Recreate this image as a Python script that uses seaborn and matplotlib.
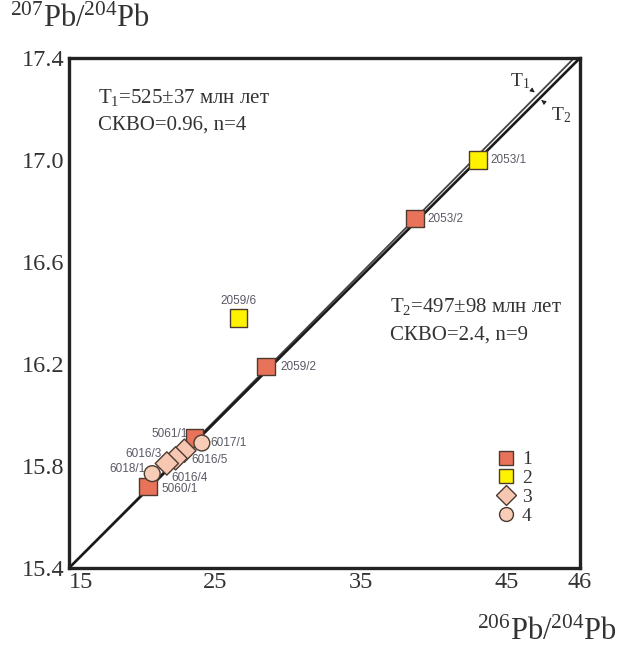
import numpy as np
import pandas as pd
import matplotlib
matplotlib.use("Agg")
import matplotlib.pyplot as plt
from matplotlib.lines import Line2D
import seaborn as sns

# ---------------- data ----------------
sample_labels = ["2053/1", "2059/6",
                 "2053/2", "2059/2", "5061/1", "5060/1",
                 "6016/5", "6016/4", "6016/3",
                 "6017/1", "6018/1"]
pb206_204 = [43.0, 26.6, 38.7, 28.5, 23.6, 20.4, 22.9, 22.3, 21.7, 24.1, 20.7]
pb207_204 = [17.00, 16.38, 16.77, 16.19, 15.91, 15.72, 15.86, 15.83, 15.81, 15.89, 15.77]
groups = ["2", "2", "1", "1", "1", "1", "3", "3", "3", "4", "4"]

# isochron lines: start point and end point (x, y)
iso_names = ["T1", "T2"]
iso_x0 = [15.0, 15.0]
iso_y0 = [15.40, 15.40]
iso_x1 = [49.6, 50.0]
iso_y1 = [17.40, 17.40]

x_ticks = [15, 20, 25, 30, 35, 40, 45, 50]
x_tick_labels = ["15", "", "25", "", "35", "", "45", "46"]
y_ticks = [15.4, 15.8, 16.2, 16.6, 17.0, 17.4]
y_tick_labels = ["15.4", "15.8", "16.2", "16.6", "17.0", "17.4"]

legend_labels = ["1", "2", "3", "4"]

# ---------------- styles ----------------
sns.set_style("white")
plt.rcParams["font.family"] = ["Liberation Serif", "DejaVu Serif"]
plt.rcParams["mathtext.default"] = "regular"

palette = {"1": "#E8735A", "2": "#FFF200", "3": "#F7C7B2", "4": "#F7CDB8"}
markers = {"1": "s", "2": "s", "3": "D", "4": "o"}
sizes = {"1": 160, "2": 160, "3": 140, "4": 130}
edge = "#4a3a30"

# label offsets in points (dx, dy, ha)
label_layout = {
    "2053/1": (9, 0, "left"),
    "2053/2": (9, 0, "left"),
    "2059/6": (0, 12, "center"),
    "2059/2": (10, 0, "left"),
    "5061/1": (-5, 3, "right"),
    "6017/1": (6, 0, "left"),
    "6016/3": (-4, 7, "right"),
    "6016/5": (5, -7, "left"),
    "6016/4": (-3, -14, "left"),
    "6018/1": (-5, 3, "right"),
    "5060/1": (10, -2, "left"),
}

df = pd.DataFrame({"x": pb206_204, "y": pb207_204, "group": groups, "label": sample_labels})

fig = plt.figure(figsize=(6.21, 6.49), dpi=100)
ax = fig.add_axes([69 / 621, 1 - 568 / 649, 511 / 621, 510 / 649])

# isochrons
line_styles = {"T1": dict(color="#444444", lw=1.3), "T2": dict(color="#1a1a1a", lw=1.9)}
for name, xa, ya, xb, yb in zip(iso_names, iso_x0, iso_y0, iso_x1, iso_y1):
    ax.plot([xa, xb], [ya, yb], zorder=2, solid_capstyle="butt", **line_styles[name])

sns.scatterplot(data=df, x="x", y="y", hue="group", style="group", size="group",
                palette=palette, markers=markers, sizes=sizes,
                edgecolor=edge, linewidth=1.0, legend=False, ax=ax, zorder=3)

for _, r in df.iterrows():
    dx, dy, ha = label_layout[r["label"]]
    ax.annotate(r["label"], (r["x"], r["y"]), xytext=(dx, dy), textcoords="offset points",
                ha=ha, va="center", fontsize=8.5, color="#5a5a66",
                family=["Liberation Sans", "DejaVu Sans"], zorder=4)

ax.set_xlim(15, 50)
ax.set_ylim(15.4, 17.4)
ax.set_xticks(x_ticks)
ax.set_xticklabels(x_tick_labels)
ax.set_yticks(y_ticks)
ax.set_yticklabels(y_tick_labels)
ax.tick_params(direction="in", length=6, width=1.8, color="#222222",
               labelsize=17.5, labelcolor="#333333", pad=3)
ax.get_xticklabels()[0].set_ha("left")
ax.set_xlabel("")
ax.set_ylabel("")
for sp in ax.spines.values():
    sp.set_linewidth(2.4)
    sp.set_color("#222222")
    sp.set_visible(True)

txt_kw = dict(transform=ax.transAxes, fontsize=15, color="#333333", va="center", ha="left")
ax.text(0.057, 0.923, "T$_1$=525±37 млн лет", **txt_kw)
ax.text(0.057, 0.868, "СКВО=0.96, n=4", **txt_kw)
ax.text(0.628, 0.512, "T$_2$=497±98 млн лет", **txt_kw)
ax.text(0.628, 0.457, "СКВО=2.4, n=9", **txt_kw)

# T1 / T2 pointers
ax.annotate("T$_1$", xy=(46.9, 17.265), xytext=(45.9, 17.31), fontsize=14, color="#333333",
            ha="center", va="center",
            arrowprops=dict(arrowstyle="-|>", color="#222222", lw=0.8, mutation_scale=6,
                            shrinkA=4, shrinkB=0))
ax.annotate("T$_2$", xy=(47.35, 17.235), xytext=(48.7, 17.175), fontsize=14, color="#333333",
            ha="center", va="center",
            arrowprops=dict(arrowstyle="-|>", color="#222222", lw=0.8, mutation_scale=6,
                            shrinkA=5, shrinkB=0))

# legend
handles = [Line2D([], [], linestyle="none", marker=markers[g], markersize=10 if markers[g] == "s" else 10,
                  markerfacecolor=palette[g], markeredgecolor=edge, markeredgewidth=1.0)
           for g in legend_labels]
ax.legend(handles, legend_labels, loc="upper left", bbox_to_anchor=(0.82, 0.245),
          frameon=False, fontsize=14, handletextpad=0.35, labelspacing=0.06,
          handlelength=1.0, borderaxespad=0, labelcolor="#333333")

fig.text(10 / 621, 1 - 19 / 649, "$^{207}$Pb/$^{204}$Pb", fontsize=22, color="#333333",
         ha="left", va="center")
fig.text(617 / 621, 1 - 632 / 649, "$^{206}$Pb/$^{204}$Pb", fontsize=22, color="#333333",
         ha="right", va="center")

fig.savefig("out.png", dpi=100)
